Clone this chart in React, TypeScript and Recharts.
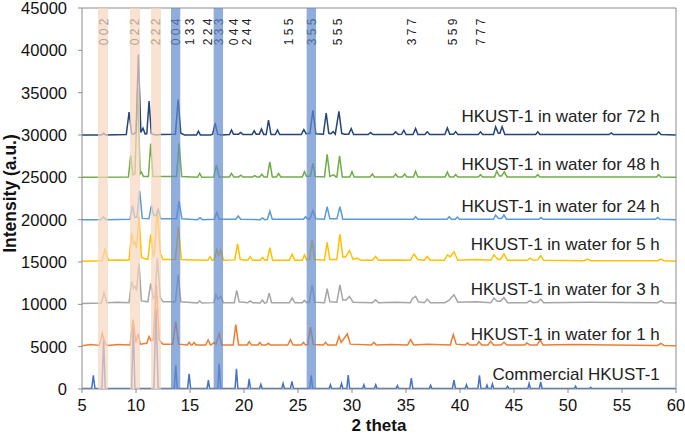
import React from 'react';
import { LineChart, Line, XAxis, YAxis, ReferenceArea, ReferenceLine, ReferenceDot, Label } from 'recharts';

// readings from the picture: [2 theta, intensity]
const commercial = [
  [5, 60], [5.9, 60], [6.05, 1600], [6.2, 60], [6.85, 60], [7.0, 6000], [7.15, 60], [9.6, 60], [9.75, 7500], [9.9, 60],
  [11.65, 100], [11.85, 9500], [12.05, 150], [12.3, 60], [13.55, 60], [13.68, 2800], [13.82, 60], [14.78, 60], [14.92, 1800], [15.06, 60],
  [16.58, 60], [16.7, 1050], [16.82, 60], [17.57, 60], [17.7, 3000], [17.84, 60], [19.17, 60], [19.3, 2400], [19.43, 60],
  [20.36, 60], [20.48, 1200], [20.6, 60], [21.44, 60], [21.56, 550], [21.68, 60], [23.5, 60], [23.62, 650], [23.74, 60],
  [24.3, 60], [24.44, 900], [24.58, 60], [26.08, 60], [26.22, 1600], [26.36, 60], [27.88, 60], [28.0, 500], [28.12, 60],
  [28.9, 60], [29.03, 650], [29.15, 60], [29.52, 60], [29.65, 1650], [29.78, 60], [30.98, 60], [31.1, 500], [31.22, 60],
  [32.08, 60], [32.2, 500], [32.32, 60], [34.08, 60], [34.2, 400], [34.32, 60], [35.35, 60], [35.49, 1300], [35.63, 60],
  [37.16, 60], [37.28, 450], [37.4, 60], [39.3, 60], [39.44, 1050], [39.58, 60], [40.48, 60], [40.6, 500], [40.72, 60],
  [41.66, 60], [41.8, 1600], [41.94, 60], [42.4, 60], [42.5, 450], [42.6, 60], [42.88, 60], [43.0, 600], [43.12, 60],
  [44.28, 60], [44.4, 330], [44.52, 60], [46.28, 60], [46.4, 650], [46.52, 60], [47.35, 60], [47.47, 850], [47.6, 60],
  [50.6, 60], [50.7, 330], [50.8, 60], [52.0, 60], [52.1, 200], [52.2, 60], [60, 60],
];

const water1h = [
  [5, 5100], [5.8, 5250], [6.6, 5150], [6.88, 6540], [7.15, 5300], [7.4, 5150], [8.3, 5250], [9.45, 5200], [9.73, 8190], [9.98, 5500],
  [10.19, 6500], [10.4, 5300], [11.0, 5400], [11.21, 6200], [11.4, 5700], [11.6, 5800], [11.89, 12300], [12.15, 5800], [12.5, 5300],
  [13.4, 5300], [13.68, 7990], [13.95, 5300], [14.75, 5200], [14.92, 5520], [15.1, 5200], [15.2, 5200], [15.38, 5500], [15.55, 5200],
  [16.45, 5200], [16.68, 5800], [16.9, 5200], [17.05, 5300], [17.23, 5500], [17.4, 5300], [17.7, 6540], [17.95, 5200],
  [19.0, 5200], [19.24, 7600], [19.5, 5200], [20.3, 5200], [20.48, 5600], [20.7, 5200], [21.3, 5200], [21.46, 5500], [21.65, 5200],
  [22.05, 5200], [22.24, 5400], [22.45, 5200], [24.05, 5200], [24.3, 5830], [24.55, 5200], [25.3, 5200], [25.5, 5500], [25.7, 5200],
  [25.9, 5250], [26.16, 7320], [26.42, 5250], [27.35, 5200], [27.55, 5510], [27.75, 5200], [28.55, 5200], [28.79, 6220], [29.0, 5500],
  [29.56, 6500], [29.85, 5300], [31.8, 5200], [32.03, 5500], [32.25, 5200], [33.6, 5250], [35.15, 5200], [35.43, 5830], [35.7, 5200],
  [37.0, 5300], [39.1, 5200], [39.38, 6420], [39.65, 5300], [40.5, 5200], [40.7, 5450], [40.9, 5200], [41.55, 5200], [41.76, 5600], [42.0, 5200],
  [42.6, 5200], [42.84, 5630], [43.1, 5200], [43.8, 5200], [44.07, 5520], [44.35, 5200], [46.0, 5200], [46.2, 5450], [46.45, 5200],
  [47.15, 5200], [47.4, 5810], [47.7, 5200], [50.5, 5250], [54.0, 5200], [58.3, 5150], [58.6, 5400], [58.9, 5150], [60, 5100],
];

const water3h = [
  [5, 10100], [6.8, 10150], [7.04, 11330], [7.3, 10200], [8.3, 10250], [9.35, 10200], [9.6, 12700], [9.78, 11900], [9.91, 12100], [10.05, 11600],
  [10.28, 14860], [10.5, 10400], [11.1, 10300], [11.36, 12470], [11.6, 10700], [11.75, 10900], [11.98, 15430], [12.25, 10800], [12.5, 10300],
  [13.65, 10300], [13.9, 13490], [14.15, 10300], [15.7, 10150], [15.9, 10400], [16.1, 10150], [17.2, 10200], [17.4, 11130], [17.6, 10600],
  [17.85, 10930], [18.1, 10200], [19.1, 10200], [19.33, 11640], [19.55, 10300], [20.35, 10200], [20.57, 10400], [20.8, 10200],
  [21.5, 10150], [21.7, 10500], [21.9, 10150], [22.1, 10200], [22.33, 11330], [22.55, 10200], [24.2, 10200], [24.46, 10740], [24.7, 10200],
  [25.4, 10200], [25.6, 10460], [25.8, 10200], [26.05, 10250], [26.31, 12310], [26.55, 10250], [27.45, 10200], [27.7, 11840], [27.95, 10300],
  [28.6, 10250], [28.88, 12310], [29.15, 10500], [29.45, 10500], [29.77, 10940], [30.1, 10250], [31.9, 10200], [32.18, 10540], [32.45, 10200],
  [34.0, 10250], [35.4, 10200], [35.6, 10700], [35.89, 10940], [36.15, 10300], [36.7, 10200], [36.97, 10620], [37.25, 10200],
  [38.6, 10200], [39.0, 10500], [39.44, 11130], [39.8, 10250], [41.5, 10300], [42.85, 10200], [43.15, 10740], [43.45, 10350], [43.75, 10350],
  [44.07, 10800], [44.4, 10200], [46.2, 10200], [46.5, 10450], [46.8, 10200], [47.2, 10250], [47.47, 10620], [47.75, 10200],
  [52.0, 10250], [58.3, 10200], [58.6, 10450], [58.9, 10200], [60, 10150],
];

const water5h = [
  [5, 15100], [6.85, 15150], [7.13, 16500], [7.45, 15200], [8.4, 15250], [9.35, 15200], [9.6, 18460], [9.8, 17000], [9.91, 17480], [10.05, 16600],
  [10.28, 20500], [10.5, 15500], [11.1, 15300], [11.36, 18270], [11.6, 15700], [11.7, 16000], [11.98, 21300], [12.25, 16000], [12.5, 15300],
  [13.65, 15300], [13.93, 19180], [14.2, 15300], [15.3, 15250], [16.65, 15200], [16.86, 15630], [17.05, 15200], [17.25, 15300], [17.48, 16500],
  [17.65, 15800], [17.85, 16420], [18.1, 15200], [19.15, 15250], [19.4, 17130], [19.65, 15300], [20.35, 15200], [20.57, 15630], [20.8, 15200],
  [21.5, 15200], [21.71, 15550], [21.95, 15200], [22.15, 15200], [22.39, 16700], [22.65, 15200], [24.2, 15200], [24.46, 15920], [24.7, 15200],
  [25.4, 15200], [25.6, 15840], [25.8, 15250], [26.05, 15300], [26.31, 17600], [26.55, 15300], [27.45, 15200], [27.7, 17330], [27.95, 15300],
  [28.6, 15300], [28.88, 18310], [29.15, 15600], [29.4, 15600], [29.77, 16350], [30.1, 15300], [30.5, 15450], [30.8, 15200],
  [31.9, 15200], [32.18, 15650], [32.45, 15200], [34.0, 15250], [35.4, 15200], [35.74, 15920], [36.1, 15300], [36.7, 15200], [36.97, 15650], [37.25, 15200],
  [38.55, 15200], [38.83, 15840], [39.1, 15600], [39.44, 16220], [39.8, 15200], [41.5, 15300], [42.85, 15200], [43.15, 15840], [43.5, 15300], [43.75, 15300],
  [44.07, 15960], [44.4, 15200], [46.2, 15200], [46.5, 15450], [46.8, 15200], [47.2, 15250], [47.47, 15760], [47.75, 15200],
  [51.5, 15150], [51.8, 15350], [52.1, 15150], [58.3, 15150], [58.6, 15350], [58.9, 15150], [60, 15100],
];

const water24h = [
  [5, 20000], [6.75, 20000], [6.98, 20350], [7.2, 20000], [9.45, 20050], [9.66, 21650], [9.88, 20300], [10.1, 20300], [10.34, 23400], [10.58, 20150],
  [11.2, 20100], [11.42, 21650], [11.65, 20500], [11.85, 20500], [12.07, 21200], [12.3, 20100], [13.75, 20100], [13.99, 22200], [14.25, 20100],
  [15.7, 20000], [15.93, 20230], [16.15, 20000], [17.25, 20050], [17.48, 20860], [17.7, 20050], [19.25, 20050], [19.46, 20430], [19.7, 20050],
  [21.5, 20000], [21.71, 20200], [21.9, 20000], [22.17, 20050], [22.39, 21020], [22.62, 20050], [25.5, 20050], [25.7, 20350], [25.9, 20050],
  [26.1, 20100], [26.38, 21060], [26.65, 20100], [27.45, 20050], [27.7, 21530], [27.95, 20100], [28.6, 20100], [28.88, 21530], [29.15, 20050],
  [35.7, 20050], [35.89, 20350], [36.1, 20050], [38.8, 20050], [39.0, 20350], [39.2, 20050], [39.55, 20050], [39.76, 20300], [39.95, 20050],
  [43.1, 20050], [43.3, 20550], [43.55, 20150], [43.85, 20150], [44.07, 20550], [44.3, 20050], [47.3, 20050], [47.5, 20250], [47.7, 20050],
  [58.1, 20050], [58.3, 20250], [58.5, 20050], [60, 20000],
];

const water48h = [
  [5, 25000], [9.3, 25050], [9.51, 27600], [9.72, 25300], [9.9, 25400], [10.15, 35500], [10.38, 25400], [10.5, 25600], [10.7, 25100],
  [11.15, 25100], [11.36, 29000], [11.57, 25100], [13.75, 25100], [13.99, 29000], [14.23, 25100], [15.7, 25000], [15.9, 25470], [16.1, 25000],
  [17.2, 25050], [17.45, 26450], [17.7, 25050], [18.65, 25050], [18.84, 25470], [19.05, 25050], [19.5, 25050], [19.7, 25250], [19.9, 25050],
  [20.8, 25050], [21.0, 25200], [21.2, 25050], [21.45, 25050], [21.65, 25360], [21.85, 25050], [22.15, 25050], [22.39, 26830], [22.62, 25050],
  [23.0, 25050], [23.2, 25470], [23.4, 25050], [25.4, 25050], [25.6, 25670], [25.8, 25100], [26.15, 25150], [26.38, 26650], [26.6, 25100],
  [27.45, 25050], [27.7, 27710], [27.95, 25100], [28.3, 25300], [28.5, 25050], [28.6, 25050], [28.85, 27550], [29.1, 25050],
  [29.8, 25050], [30.0, 25670], [30.2, 25050], [31.68, 25050], [31.88, 25390], [32.08, 25050], [33.84, 25050], [34.04, 25390], [34.24, 25050],
  [34.67, 25050], [34.87, 25400], [35.07, 25050], [35.69, 25050], [35.89, 25710], [36.09, 25050], [38.63, 25050], [38.83, 25630], [39.03, 25050],
  [39.4, 25050], [39.6, 25320], [39.8, 25050], [41.7, 25050], [41.9, 25320], [42.1, 25050], [43.2, 25050], [43.4, 25730], [43.65, 25150],
  [43.85, 25150], [44.1, 25650], [44.35, 25050], [47.0, 25050], [47.2, 25320], [47.4, 25050], [58.2, 25050], [58.4, 25320], [58.6, 25050], [60, 25000],
];

const water72h = [
  [5, 30000], [6.8, 30000], [7.0, 30200], [7.2, 30000], [9.1, 30050], [9.36, 32700], [9.6, 30150], [9.75, 30100], [10.0, 30300],
  [10.22, 39500], [10.45, 30300], [10.65, 30800], [10.85, 30100], [11.0, 30150], [11.21, 34000], [11.42, 30150], [11.8, 30000], [12.3, 30050],
  [13.65, 30100], [13.9, 34200], [14.15, 30200], [14.5, 30000], [15.6, 30000], [15.78, 30450], [15.96, 30000], [16.9, 30000], [17.1, 30100],
  [17.33, 31400], [17.56, 30100], [17.9, 30000], [18.65, 30050], [18.84, 30600], [19.03, 30100], [19.5, 30100], [19.7, 30300], [19.9, 30050],
  [20.75, 30050], [20.94, 30500], [21.13, 30100], [21.42, 30100], [21.62, 30700], [21.82, 30050], [22.05, 30050], [22.27, 31750], [22.5, 30050],
  [22.9, 30050], [23.1, 30600], [23.3, 30050], [25.3, 30050], [25.54, 30640], [25.75, 30150], [26.1, 30200], [26.38, 32900], [26.65, 30150],
  [27.35, 30100], [27.61, 32600], [27.85, 30200], [28.05, 30150], [28.25, 30400], [28.45, 30100], [28.79, 32800], [29.05, 30200], [29.3, 30100],
  [29.7, 30100], [29.93, 30760], [30.15, 30050], [31.5, 30050], [31.72, 30290], [31.95, 30050], [33.8, 30050], [34.04, 30370], [34.3, 30050],
  [34.6, 30100], [34.8, 30560], [35.0, 30050], [35.65, 30050], [35.89, 30760], [36.1, 30050], [36.75, 30050], [36.97, 30370], [37.2, 30050],
  [38.6, 30050], [38.83, 30840], [39.05, 30100], [39.4, 30100], [39.6, 30400], [39.8, 30050], [41.7, 30050], [41.9, 30370], [42.1, 30050],
  [43.1, 30050], [43.3, 30960], [43.55, 30200], [43.7, 30200], [43.9, 30960], [44.15, 30050], [47.0, 30050], [47.2, 30370], [47.4, 30050],
  [53.8, 30050], [54.0, 30250], [54.2, 30050], [58.2, 30050], [58.4, 30370], [58.6, 30050], [60, 30000],
];

const seriesData = [commercial, water1h, water3h, water5h, water24h, water48h, water72h];
const seriesNames = [
  'Commercial HKUST-1',
  'HKUST-1 in water for 1 h',
  'HKUST-1 in water for 3 h',
  'HKUST-1 in water for 5 h',
  'HKUST-1 in water for 24 h',
  'HKUST-1 in water for 48 h',
  'HKUST-1 in water for 72 h',
];
const seriesColors = ['#4472C4', '#ED7D31', '#A5A5A5', '#FFC000', '#5B9BD5', '#70AD47', '#264478'];
const labelY = [1710, 6420, 11720, 17100, 21610, 26520, 32130];
const labelX = 58.5;

const hklNames = ['0 0 2', '0 2 2', '2 2 2', '0 0 4', '1 3 3', '2 2 4', '3 3 3', '0 4 4', '2 4 4', '1 5 5', '3 5 5', '5 5 5', '3 7 7', '5 5 9', '7 7 7'];
const hklPos = [7.0, 9.87, 11.86, 13.74, 14.97, 16.68, 17.66, 19.05, 20.3, 24.15, 26.25, 28.73, 35.52, 39.38, 41.9];

const peachBands = [[6.48, 7.41], [9.44, 10.37], [11.39, 12.31]];
const blueBands = [[13.24, 14.1], [17.19, 18.06], [25.8, 26.67]];

const xTicks = [5, 10, 15, 20, 25, 30, 35, 40, 45, 50, 55, 60];
const yTicks = [0, 5000, 10000, 15000, 20000, 25000, 30000, 35000, 40000, 45000];

const FONT = '"Liberation Sans", Arial, sans-serif';
const AXIS = '#8C8C8C';

const hklLabel = (text: string) => (props: any) => {
  const vb = props.viewBox || {};
  return (
    <text
      transform={`translate(${vb.x},${(vb.y || 0) + 24}) rotate(-90)`}
      textAnchor="middle"
      dominantBaseline="central"
      fontSize={12}
      fontFamily={FONT}
      fill="#222"
    >
      {text}
    </text>
  );
};

const seriesLabel = (text: string) => (props: any) => {
  const vb = props.viewBox || {};
  return (
    <text x={vb.x} y={vb.y} textAnchor="end" dominantBaseline="central" fontSize={17} fontFamily={FONT} fill="#222">
      {text}
    </text>
  );
};

export default function App() {
  const lines = seriesData.map((s) => s.map(([x, y]) => ({ x, y })));

  return (
    <div style={{ position: 'absolute', left: 0, top: 0, width: 685, height: 439, background: '#fff' }}>
      <LineChart width={685} height={439} margin={{ top: 7, right: 8, bottom: 0, left: 0 }}>
        <XAxis
          dataKey="x"
          type="number"
          domain={[5, 60]}
          ticks={xTicks}
          interval={0}
          allowDataOverflow
          height={50}
          tickSize={4}
          tickMargin={6}
          stroke={AXIS}
          tick={{ fill: '#111', fontSize: 16.5, fontFamily: FONT }}
        >
          <Label value="2 theta" position="insideBottom" offset={8} style={{ fontWeight: 'bold', fontSize: 17, fontFamily: FONT, fill: '#111' }} />
        </XAxis>
        <XAxis xAxisId="top" orientation="top" type="number" domain={[5, 60]} height={1} tick={false} tickLine={false} stroke={AXIS} />
        <YAxis
          type="number"
          domain={[0, 45000]}
          ticks={yTicks}
          interval={0}
          allowDataOverflow
          width={82}
          tickSize={4}
          tickMargin={11}
          stroke={AXIS}
          tick={{ fill: '#111', fontSize: 16.5, fontFamily: FONT }}
        >
          <Label
            value="Intensity (a.u.)"
            angle={-90}
            position="insideLeft"
            offset={10}
            dy={-5}
            style={{ textAnchor: 'middle', fontWeight: 'bold', fontSize: 17.5, fontFamily: FONT, fill: '#111' }}
          />
        </YAxis>
        <YAxis yAxisId="right" orientation="right" type="number" domain={[0, 45000]} width={1} tick={false} tickLine={false} stroke={AXIS} />

        {lines.map((d, i) => (
          <Line
            key={seriesNames[i]}
            data={d}
            dataKey="y"
            type="linear"
            stroke={seriesColors[i]}
            strokeWidth={1.5}
            dot={false}
            activeDot={false}
            isAnimationActive={false}
          />
        ))}

        {hklNames.map((n, i) => (
          <ReferenceLine key={n + i} x={hklPos[i]} stroke="none" label={{ content: hklLabel(n), zIndex: 450 } as any} zIndex={450} />
        ))}

        {seriesNames.map((n, i) => (
          <ReferenceDot key={n} x={labelX} y={labelY[i]} r={0} fill="none" stroke="none" label={{ content: seriesLabel(n) } as any} />
        ))}

        {peachBands.map(([a, b]) => (
          <ReferenceArea key={'p' + a} x1={a} x2={b} fill="#F8D6BF" fillOpacity={0.7} stroke="none" zIndex={1500} />
        ))}
        {blueBands.map(([a, b]) => (
          <ReferenceArea key={'b' + a} x1={a} x2={b} fill="#638ACD" fillOpacity={0.7} stroke="none" zIndex={1500} />
        ))}
      </LineChart>
    </div>
  );
}
